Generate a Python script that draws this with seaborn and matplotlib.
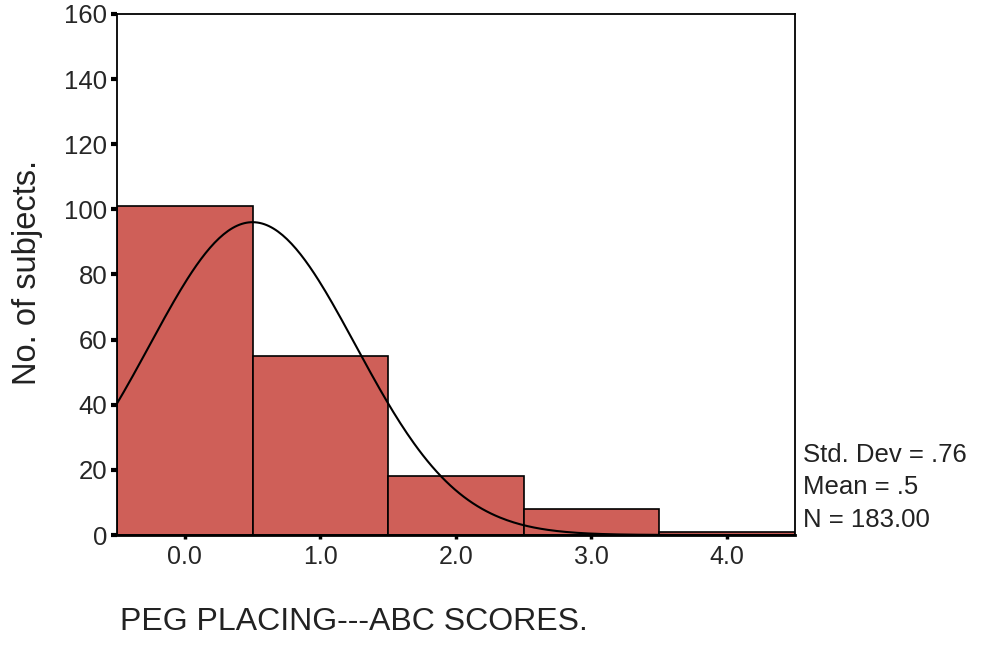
import numpy as np
import pandas as pd
import matplotlib
matplotlib.use('Agg')
import matplotlib.pyplot as plt
import seaborn as sns

# histogram values
scores = [0, 1, 2, 3, 4]
counts = [101, 55, 18, 8, 1]
bin_edges = [-0.5, 0.5, 1.5, 2.5, 3.5, 4.5]
x_ticks = [0, 1, 2, 3, 4]
x_labels = ['0.0', '1.0', '2.0', '3.0', '4.0']
y_ticks = [0, 20, 40, 60, 80, 100, 120, 140, 160]

# summary statistics printed on the chart
std_dev = 0.76
mean = 0.5
n = 183

sns.set_theme(style='white')
plt.rcParams['font.family'] = ['Liberation Sans', 'DejaVu Sans']

df = pd.DataFrame({'score': scores, 'count': counts})

fig = plt.figure(figsize=(9.86, 6.53), dpi=100)
ax = fig.add_axes([0.1187, 0.1807, 0.6873, 0.7979])

sns.histplot(data=df, x='score', weights='count', bins=bin_edges,
             color='#cf5f58', edgecolor='black', linewidth=1.2, alpha=1, ax=ax)

# normal curve from the stated mean / sd, scaled to N * bin width
xs = np.linspace(-0.5, 4.5, 300)
ys = n * 1.0 / (std_dev * np.sqrt(2 * np.pi)) * np.exp(-0.5 * ((xs - mean) / std_dev) ** 2)
curve = pd.DataFrame({'x': xs, 'y': ys})
sns.lineplot(data=curve, x='x', y='y', color='black', linewidth=1.5, ax=ax)

ax.set_xlim(-0.5, 4.5)
ax.set_ylim(0, 160)
ax.set_xticks(x_ticks)
ax.set_xticklabels(x_labels)
ax.set_yticks(y_ticks)
ax.set_xlabel('')
ax.set_ylabel('')
ax.tick_params(axis='y', direction='out', length=4, width=3, color='black',
               labelsize=18.5, pad=3, left=True)
ax.tick_params(axis='x', direction='out', length=3, width=2.5, color='black',
               labelsize=18, pad=4, bottom=True)
for s in ax.spines.values():
    s.set_color('black')
    s.set_linewidth(1.3)
ax.spines['bottom'].set_linewidth(2)

fig.text(28 / 986, 1 - 272 / 653, 'No. of subjects.', rotation=90,
         ha='center', va='center', fontsize=23.5, color='#222222')
fig.text(120 / 986, 1 - 622 / 653, 'PEG PLACING---ABC SCORES.',
         ha='left', va='center', fontsize=23, color='#222222')

stats = ['Std. Dev = .76', 'Mean = .5', 'N = 183.00']
for i, line in enumerate(stats):
    fig.text(803 / 986, 1 - (455 + 32.5 * i) / 653, line,
             ha='left', va='center', fontsize=18.5, color='#222222')

fig.savefig('out.png', dpi=100)
